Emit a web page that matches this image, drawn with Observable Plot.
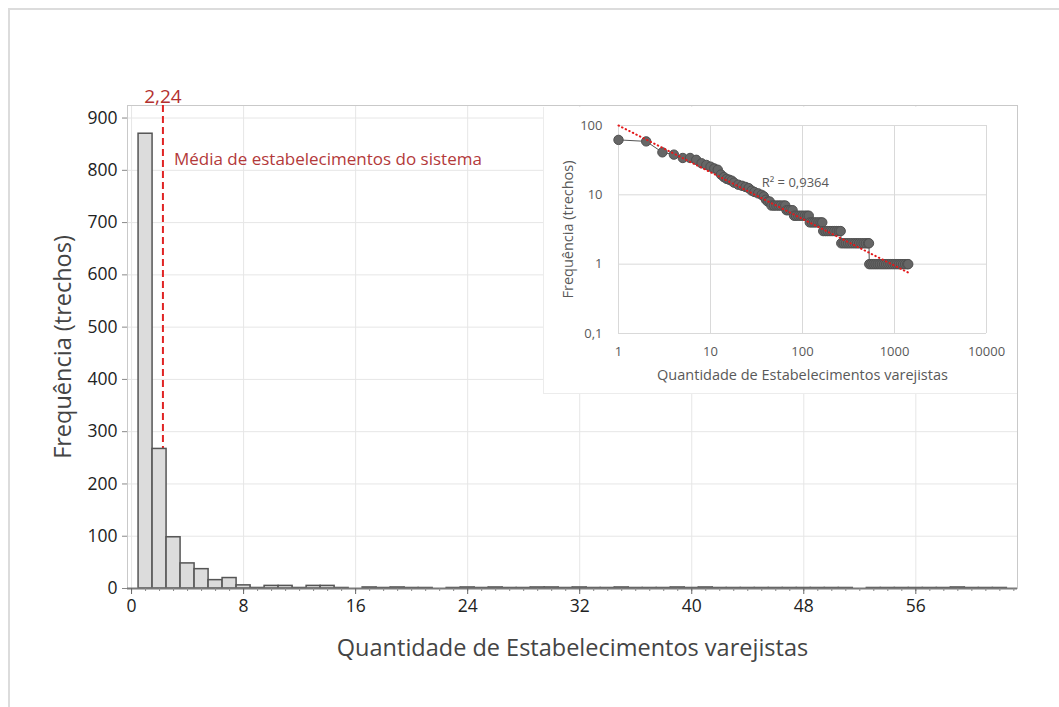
<!DOCTYPE html>
<html><head><meta charset="utf-8">
<script src="https://cdn.jsdelivr.net/npm/d3@7"></script>
<script src="https://cdn.jsdelivr.net/npm/@observablehq/plot@0.6"></script>
<style>
body{margin:0;background:#fff;font-family:"Open Sans",sans-serif;}
#page{position:relative;width:1059px;height:707px;overflow:hidden;background:#fff;}
#border{position:absolute;left:8px;top:8px;width:1060px;height:710px;border-left:2px solid #dcdcdc;border-top:2px solid #dcdcdc;}
#main{position:absolute;left:0;top:0;}
#inset{position:absolute;left:543px;top:107px;background:#fff;border-left:1px solid #ececec;border-bottom:1px solid #ececec;}
svg{display:block;}
</style></head><body>
<div id="page"><div id="border"></div><div id="main"></div><div id="inset"></div></div>
<script>
// ---- main histogram data ----
const binCenters = [1,2,3,4,5,6,7,8,9,10,11,12,13,14,15,16,17,18,19,20,21,22,23,24,25,26,27,28,29,30,31,32,33,34,35,36,37,38,39,40,41,42,43,44,45,46,47,48,49,50,51,52,53,54,55,56,57,58,59,60,61,62,63];
const counts     = [870,267,98,48,37,16,20,6,1,5,5,1,5,5,1,0,2,1,2,1,1,0,1,2,1,2,1,1,2,2,1,2,1,1,2,1,1,1,2,1,2,1,1,1,1,1,1,1,1,1,1,0,1,1,1,1,1,1,2,1,1,1,0];
const meanValue = 2.24;
const meanLabel = "2,24";
const meanText = "Média de estabelecimentos do sistema";
const xTicks = [0,8,16,24,32,40,48,56];
const xMinorTicks = [0,1,2,3,4,5,6,7,8,9,10,11,12,13,14,15,16,17,18,19,20,21,22,23,24,25,26,27,28,29,30,31,32,33,34,35,36,37,38,39,40,41,42,43,44,45,46,47,48,49,50,51,52,53,54,55,56,57,58,59,60,61,62,63];
const yTicks = [0,100,200,300,400,500,600,700,800,900];
const xTitle = "Quantidade de Estabelecimentos varejistas";
const yTitle = "Frequência (trechos)";

// ---- inset (log-log) data ----
const insetRank = [1,2,3,4,5,6,7,8,9,10,11,12,13,14,15,16,17,18,20,22,24,26,28,30,33,36,38,40,42,44,
  46,49,52,55,58,62,65,
  67,70,74,78,
  81,85,90,95,100,106,112,117,
  120,127,134,141,149,157,164,
  168,178,188,199,210,222,235,248,260,
  264,280,296,313,331,350,370,391,413,437,462,488,515,528,
  532,560,590,622,656,692,730,770,812,856,903,952,1004,1058,1115,1175,1238,1304,1374,1410];
const insetFreq = [62,59,41,38,34,34,32,28.5,27,25.5,24,23,19.6,18,17,16.5,16,15,14,13.5,13,12.5,11.5,11,10.5,10,9.5,8.5,8,8,
  7,7,7,7,7,7,7,
  6,6,6,6,
  5,5,5,5,5,5,5,5,
  4,4,4,4,4,4,4,
  3,3,3,3,3,3,3,3,3,
  2,2,2,2,2,2,2,2,2,2,2,2,2,2,
  1,1,1,1,1,1,1,1,1,1,1,1,1,1,1,1,1,1,1,1];
const trendRank = [1,1400];
const trendFreq = [100,0.76];
const insetXTicks = [1,10,100,1000,10000];
const insetYTicks = [0.1,1,10,100];
const r2Label = "R² = 0,9364";
const r2Pos = {x:36, y:14.7};

const font = "'Open Sans', 'Noto Sans', sans-serif";

const bins = binCenters.map((c,i)=>({x1:c-0.5,x2:c+0.5,count:counts[i]})).filter(d=>d.count>0);

const main = Plot.plot({
  width:1059, height:707,
  marginLeft:127, marginRight:42, marginTop:105, marginBottom:119,
  x:{domain:[-0.29,63.26]},
  y:{domain:[0,924]},
  style:{fontFamily:font, fontSize:"17.5px", color:"#222", background:"transparent", overflow:"visible"},
  marks:[
    Plot.gridX(xTicks,{stroke:"#e6e6e6",strokeOpacity:1}),
    Plot.gridY(yTicks.slice(1),{stroke:"#e6e6e6",strokeOpacity:1}),
    Plot.frame({stroke:"#c9c9c9"}),
    Plot.ruleX([meanValue],{stroke:"#e02424",strokeWidth:2,strokeDasharray:"7,4"}),
    Plot.rectY(bins,{x1:"x1",x2:"x2",y:"count",fill:"#dcdcdc",stroke:"#555",strokeWidth:1.5}),
    Plot.ruleY([0],{stroke:"#7a7a7a",strokeWidth:2}),
    Plot.axisX(xMinorTicks,{tickSize:3,tickFormat:()=>"",stroke:"#888"}),
    Plot.axisX(xTicks,{tickSize:6,tickPadding:5,stroke:"#666",fill:"#222",label:null}),
    Plot.axisY(yTicks,{tickSize:5,tickPadding:5,stroke:"#888",fill:"#222",label:null}),
    Plot.text([meanLabel],{x:()=>meanValue,text:d=>d,frameAnchor:"top",lineAnchor:"middle",textAnchor:"middle",dy:-9,fill:"#b3302f",fontSize:19}),
    Plot.text([meanText],{x:()=>meanValue,text:d=>d,frameAnchor:"top",lineAnchor:"middle",textAnchor:"start",dx:11,dy:54,fill:"#b3393a",fontSize:17}),
    Plot.text([xTitle],{text:d=>d,frameAnchor:"bottom",lineAnchor:"middle",textAnchor:"middle",dy:60,fill:"#444",fontSize:23.5,letterSpacing:"0.5px"}),
    Plot.text([yTitle],{text:d=>d,frameAnchor:"left",lineAnchor:"middle",textAnchor:"middle",dx:-64,rotate:-90,fill:"#444",fontSize:23.5,letterSpacing:"0.5px"})
  ]
});
document.getElementById("main").appendChild(main);

const insetData = insetRank.map((r,i)=>({rank:r,freq:insetFreq[i]}));
const trend = trendRank.map((r,i)=>({rank:r,freq:trendFreq[i]}));

const inset = Plot.plot({
  width:473, height:286,
  marginLeft:74, marginRight:31, marginTop:18, marginBottom:60,
  x:{type:"log",domain:[1,10000]},
  y:{type:"log",domain:[0.1,100]},
  style:{fontFamily:font, fontSize:"13px", color:"#595959", background:"#fff", overflow:"visible"},
  marks:[
    Plot.gridX(insetXTicks,{stroke:"#d9d9d9",strokeOpacity:1}),
    Plot.gridY(insetYTicks,{stroke:"#d9d9d9",strokeOpacity:1}),
    Plot.axisX(insetXTicks,{tickSize:0,tickPadding:13,tickFormat:d=>String(d),label:null}),
    Plot.axisY(insetYTicks,{tickSize:0,tickPadding:16,tickFormat:d=>String(d).replace(".",","),label:null}),
    Plot.line(insetData,{x:"rank",y:"freq",stroke:"#555",strokeWidth:1}),
    Plot.dot(insetData,{x:"rank",y:"freq",r:4.7,fill:"#666",stroke:"#505050",strokeWidth:1}),
    Plot.line(trend,{x:"rank",y:"freq",stroke:"#e31a1c",strokeWidth:2,strokeDasharray:"0.5,3.5",strokeLinecap:"round"}),
    Plot.text([r2Label],{x:()=>r2Pos.x,y:()=>r2Pos.y,text:d=>d,textAnchor:"start",fill:"#595959",fontSize:13}),
    Plot.text([xTitle],{text:d=>d,frameAnchor:"bottom",lineAnchor:"middle",textAnchor:"middle",dy:42,fill:"#595959",fontSize:14.5}),
    Plot.text([yTitle],{text:d=>d,frameAnchor:"left",lineAnchor:"middle",textAnchor:"middle",dx:-50,rotate:-90,fill:"#595959",fontSize:14.5})
  ]
});
document.getElementById("inset").appendChild(inset);
</script></body></html>
